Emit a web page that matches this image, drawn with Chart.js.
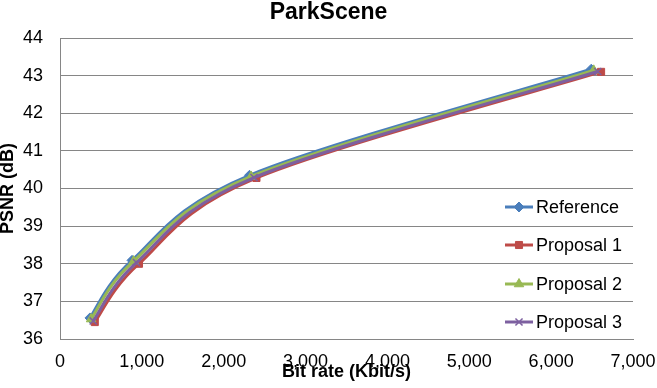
<!DOCTYPE html>
<html><head><meta charset="utf-8">
<script src="https://cdn.jsdelivr.net/npm/chart.js@4"></script>
<style>html,body{margin:0;padding:0;background:#fff}#w{width:657px;height:388px}</style>
</head><body><div id="w"><canvas id="c" width="657" height="388"></canvas></div>
<script>
const seriesNames = ["Reference", "Proposal 1", "Proposal 2", "Proposal 3"];
const bitrateRef = [366, 880, 2315, 6490];
const psnrRef = [36.56, 38.09, 40.35, 43.17];
const bitrateP1 = [425, 965, 2400, 6610];
const psnrP1 = [36.45, 38.00, 40.28, 43.10];
const bitrateP2 = [380, 900, 2335, 6520];
const psnrP2 = [36.53, 38.07, 40.32, 43.14];
const bitrateP3 = [405, 935, 2370, 6570];
const psnrP3 = [36.48, 38.03, 40.29, 43.11];
const yTicks = [36, 37, 38, 39, 40, 41, 42, 43, 44];
const xTicks = [0, 1000, 2000, 3000, 4000, 5000, 6000, 7000];

const FONT = '"Liberation Sans", Arial, sans-serif';
const colors = ["#4A7EBB", "#BE4B48", "#98B954", "#7D60A0"];
const markers = ["rectRot", "rect", "triangle", "crossRot"];
const radii = [5, 5, 5.5, 5];
const xs = [bitrateRef, bitrateP1, bitrateP2, bitrateP3];
const ys = [psnrRef, psnrP1, psnrP2, psnrP3];

const datasets = seriesNames.map((n, i) => ({
  label: n,
  data: xs[i].map((x, k) => ({x: x, y: ys[i][k]})),
  borderColor: colors[i],
  backgroundColor: colors[i],
  borderWidth: 3,
  pointStyle: markers[i],
  pointRadius: radii[i],
  pointBorderWidth: i === 3 ? 1.5 : 1,
  tension: 0.4,
  order: 3 - i
}));

// Excel-like smoothing: control points at +/- (next - prev)/6
const smoothPlugin = {
  id: 'excelSmooth',
  beforeDatasetDraw(chart, args) {
    const line = args.meta.dataset;
    if (!line) return;
    line.updateControlPoints(chart.chartArea);
    const pts = args.meta.data;
    for (let i = 0; i < pts.length; i++) {
      const p = pts[i];
      const prev = pts[Math.max(0, i - 1)];
      const next = pts[Math.min(pts.length - 1, i + 1)];
      const dx = (next.x - prev.x) / 6, dy = (next.y - prev.y) / 6;
      p.cp1x = p.x - dx; p.cp1y = p.y - dy;
      p.cp2x = p.x + dx; p.cp2y = p.y + dy;
    }
  }
};

const legendPlugin = {
  id: 'customLegend',
  afterDraw(chart) {
    const ctx = chart.ctx;
    ctx.save();
    const ys0 = [207, 245, 284, 322];
    chart.data.datasets.forEach((ds, i) => {
      const y = ys0[i];
      ctx.strokeStyle = ds.borderColor;
      ctx.lineWidth = 3;
      ctx.beginPath(); ctx.moveTo(505, y); ctx.lineTo(533, y); ctx.stroke();
      ctx.fillStyle = ds.backgroundColor;
      ctx.strokeStyle = ds.borderColor;
      ctx.lineWidth = ds.pointBorderWidth;
      Chart.helpers.drawPoint(ctx, {pointStyle: ds.pointStyle, radius: ds.pointRadius, borderWidth: ds.pointBorderWidth}, 519, y);
      ctx.fillStyle = '#000';
      ctx.font = '18px ' + FONT;
      ctx.textBaseline = 'middle';
      ctx.textAlign = 'left';
      ctx.fillText(ds.label, 536, y + 1);
    });
    ctx.restore();
  }
};

new Chart(document.getElementById('c'), {
  type: 'line',
  data: { datasets },
  plugins: [smoothPlugin, legendPlugin],
  options: {
    responsive: false,
    animation: false,
    layout: { padding: { left: 0, right: 0, top: 0, bottom: 0 } },
    plugins: {
      legend: { display: false },
      tooltip: { enabled: false },
      title: {
        display: true, text: 'ParkScene', color: '#000',
        font: { family: FONT, size: 23, weight: 'bold' },
        padding: { top: -1.5, bottom: 11.9 }
      }
    },
    scales: {
      x: {
        type: 'linear', min: 0, max: 7000,
        afterBuildTicks(s) { s.ticks = xTicks.map(v => ({value: v})); },
        ticks: {
          color: '#000', padding: 12,
          font: { family: FONT, size: 18 },
          callback: v => v.toLocaleString('en-US'),
          maxRotation: 0, autoSkip: false
        },
        grid: { display: false, drawTicks: false },
        border: { display: true, color: '#868686', width: 1 },
        title: {
          display: true, text: 'Bit rate (Kbit/s)', color: '#000',
          font: { family: FONT, size: 18, weight: 'bold' },
          padding: { top: 0, bottom: 5 }
        },
        afterFit(s) { s.height = 49; s.paddingRight = 24; s.paddingLeft = 0; }
      },
      y: {
        min: 36, max: 44,
        afterBuildTicks(s) { s.ticks = yTicks.map(v => ({value: v})); },
        ticks: {
          color: '#000', padding: 17,
          font: { family: FONT, size: 18 }
        },
        grid: { color: '#868686', lineWidth: 1, drawTicks: false },
        border: { display: true, color: '#868686', width: 1 },
        title: {
          display: true, text: 'PSNR (dB)', color: '#000',
          font: { family: FONT, size: 18, weight: 'bold' },
          padding: { top: -3, bottom: 0 }
        },
        afterFit(s) { s.width = 60; }
      }
    }
  }
});
</script></body></html>
